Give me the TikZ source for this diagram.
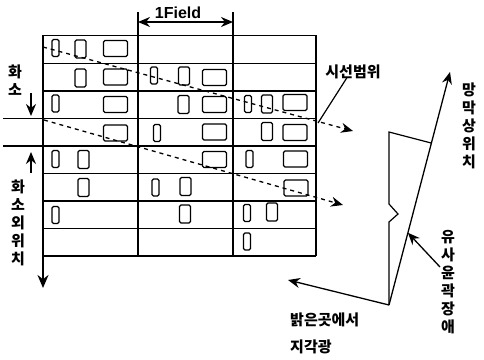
\documentclass[tikz,border=0pt]{standalone}
\usepackage{fontspec}
\setmainfont{Liberation Sans}
\newfontfamily\kr{Noto Sans CJK KR}
\usetikzlibrary{arrows.meta, positioning, calc}

\begin{document}
\begin{tikzpicture}[x=1pt, y=-1pt,
  bold/.style={line width=1.8pt},
  thin/.style={line width=0.9pt},
  cell/.style={draw, line width=1.4pt, rounded corners=1.5pt, inner sep=0pt},
  tallc/.style={cell, minimum width=7pt, minimum height=17pt},
  sqc/.style={cell, minimum width=11pt, minimum height=18pt},
  widec/.style={cell, minimum width=24pt, minimum height=16pt},
  tip/.style={line width=1.3pt, -{Stealth[length=12pt, width=10pt]}},
  sight/.style={tip, dash pattern=on 4pt off 4pt},
  lbl/.style={font=\kr\bfseries\fontsize{15}{18}\selectfont, inner sep=0pt, align=center}
]
  \useasboundingbox (0,0) rectangle (484,359);

  % field grid
  \draw[thin] (43,35) -- (316,35);
  \draw[thin] (43,63) -- (316,63);
  \draw[bold] (43,91) -- (316,91);
  \draw[thin] (3,118) -- (316,118);
  \draw[bold] (3,146) -- (316,146);
  \draw[thin] (43,173) -- (316,173);
  \draw[bold] (43,201) -- (316,201);
  \draw[thin] (43,228) -- (316,228);
  \draw[bold] (43,256) -- (316,256);
  \draw[line width=1.1pt] (138,12) -- (138,256);
  \draw[line width=1.1pt] (233,12) -- (233,256);
  \draw[bold] (316,35) -- (316,256);
  \draw[bold, -{Stealth[length=13pt, width=11pt]}] (43,35) -- (43,288);

  \coordinate (f1) at (138,22);
  \coordinate (f2) at (233,22);
  \draw[line width=1.4pt, {Stealth[length=12pt, width=10pt]}-{Stealth[length=12pt, width=10pt]}] (f1) -- (f2);
  \node[font=\bfseries\fontsize{16}{18}\selectfont, inner sep=0pt] (fld) at (178,13) {1Field};

  % pixels
  \node[tallc] (a1) at (55.5,48) {}; \node[sqc] (a2) at (80.5,49) {}; \node[widec] (a3) at (115.5,48.5) {};
  \node[sqc] (b1) at (80.5,78) {}; \node[widec] (b2) at (115.5,77) {};
  \node[tallc] (b3) at (154,75.5) {}; \node[sqc] (b4) at (184,76) {}; \node[widec] (b5) at (214.5,77.5) {};
  \node[tallc] (c1) at (55.5,103.5) {}; \node[widec] (c2) at (115.5,104.5) {};
  \node[sqc] (c3) at (183.5,104.5) {}; \node[widec] (c4) at (214.5,104.5) {};
  \node[tallc] (c5) at (248,104) {}; \node[sqc] (c6) at (267,104) {}; \node[widec] (c7) at (295,102.5) {};
  \node[widec] (d1) at (115.5,133) {}; \node[tallc] (d2) at (157,133) {}; \node[widec] (d3) at (214.5,132) {};
  \node[sqc] (d4) at (267,131.5) {}; \node[widec] (d5) at (295,132.5) {};
  \node[tallc] (e1) at (55.5,159) {}; \node[sqc] (e2) at (83.5,159.5) {}; \node[widec] (e3) at (214.5,159.5) {};
  \node[tallc] (e4) at (249.5,159) {}; \node[widec] (e5) at (295.5,159) {};
  \node[sqc] (g1) at (83.5,187.5) {}; \node[tallc] (g2) at (155.5,187.5) {}; \node[sqc] (g3) at (185.5,186.5) {};
  \node[widec] (g4) at (296,188) {};
  \node[tallc] (h1) at (55.5,215) {}; \node[sqc] (h2) at (185,214) {};
  \node[tallc] (h3) at (247,213) {}; \node[sqc] (h4) at (272,212) {};
  \node[tallc] (k1) at (247,241.5) {};

  % lines of sight
  \coordinate (s1) at (43,47);
  \coordinate (s1e) at (353,131);
  \coordinate (s2) at (44,120);
  \coordinate (s2e) at (343,205);
  \draw[sight] (s1) -- (s1e);
  \draw[sight] (s2) -- (s2e);

  \node[lbl] (view) at (353,72) {시선범위};
  \coordinate (vp) at (318,123);
  \draw[line width=1.2pt] (vp) -- ($(view.south west)+(22,-2)$);

  % left labels
  \node[lbl] (pix) at (15,80) {화\\소};
  \draw[tip] (31,93) -- (31,116);
  \draw[tip] (31,173) -- (31,152);
  \node[lbl] (pos) at (18,222.5) {화\\소\\외\\위\\치};

  % retina
  \coordinate (V) at (389,305);
  \coordinate (T) at (450,72);
  \coordinate (L) at (288,280);
  \coordinate (K) at (389,132);
  \coordinate (J) at ($(V)!0.695!(T)$);
  \coordinate (cp) at ($(V)!0.31!(T)$);
  \draw[tip] (V) -- (T);
  \draw[tip] (V) -- (L);
  \draw[line width=1.2pt] (V) -- (389,222) -- (398,214) -- (389,204) -- (K) -- (J);

  \node[lbl] (ret) at (469,125.5) {망\\막\\상\\위\\치};
  \node[lbl] (cont) at (448,282.5) {유\\사\\윤\\곽\\장\\애};
  \coordinate (ct) at (440,267);
  \draw[tip] (ct) -- (cp);

  \node[lbl, anchor=west] (bright) at (290,320) {밝은곳에서};
  \node[lbl, anchor=west] (light) at (290,347) {지각광};
\end{tikzpicture}
\end{document}
